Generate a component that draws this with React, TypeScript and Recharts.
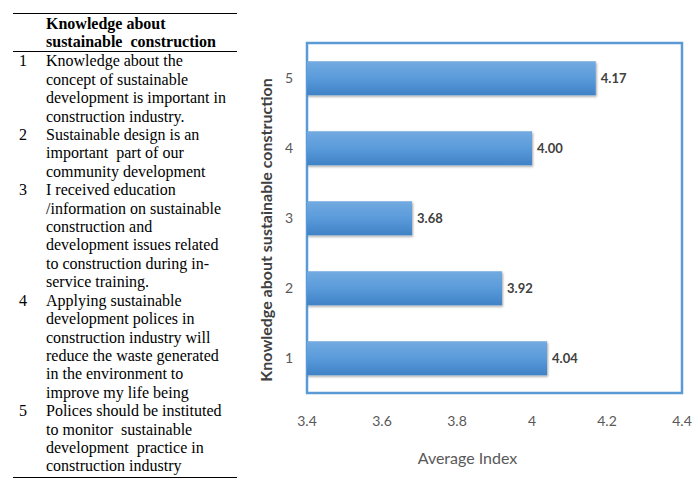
import React from "react";
import { BarChart, Bar, XAxis, YAxis, ReferenceArea, LabelList } from "recharts";

const categories = ["5", "4", "3", "2", "1"];
const averageIndex = [4.17, 4.0, 3.68, 3.92, 4.04];
const xTicks = [3.4, 3.6, 3.8, 4, 4.2, 4.4];
const headerLines = ["Knowledge about", "sustainable  construction"];
const rowNumbers = ["1", "2", "3", "4", "5"];
const rowLines = [
  ["Knowledge about the", "concept of sustainable", "development is important in", "construction industry."],
  ["Sustainable design is an", "important  part of our", "community development"],
  ["I received education", "/information on sustainable", "construction and", "development issues related", "to construction during in-", "service training."],
  ["Applying sustainable", "development polices in", "construction industry will", "reduce the waste generated", "in the environment to", "improve my life being"],
  ["Polices should be instituted", "to monitor  sustainable", "development  practice in", "construction industry"],
];

const data = categories.map((c, i) => ({ cat: c, value: averageIndex[i] }));

const serif = "'Liberation Serif', 'Times New Roman', serif";
const sans = "Lato, 'Open Sans', sans-serif";
const LH = 18.4;

function Table() {
  return (
    <div style={{ position: "absolute", left: 13, top: 13, width: 224, fontFamily: serif, fontSize: 16, color: "#000" }}>
      <div style={{ borderTop: "1.5px solid #000", paddingTop: 1, paddingLeft: 33, fontWeight: "bold", lineHeight: "18.2px", whiteSpace: "pre" }}>
        {headerLines.map((l, i) => (
          <div key={i}>{l}</div>
        ))}
      </div>
      <div style={{ borderTop: "1.5px solid #000", borderBottom: "1.5px solid #000", paddingTop: 0, paddingBottom: 1 }}>
        {rowLines.map((lines, r) => (
          <div key={r} style={{ display: "flex", lineHeight: `${LH}px`, whiteSpace: "pre" }}>
            <div style={{ width: 33, paddingLeft: 6, boxSizing: "border-box", flexShrink: 0 }}>{rowNumbers[r]}</div>
            <div>
              {lines.map((l, i) => (
                <div key={i}>{l}</div>
              ))}
            </div>
          </div>
        ))}
      </div>
    </div>
  );
}

const yTitle = (props: any) => {
  const vb = props.viewBox || {};
  const cx = vb.x + 15;
  const cy = vb.y + vb.height / 2 + 12;
  return (
    <text x={cx} y={cy} transform={`rotate(-90, ${cx}, ${cy})`} textAnchor="middle" dominantBaseline="central"
      fill="#404040" fontFamily={sans} fontWeight="bold" fontSize={16}>
      Knowledge about sustainable construction
    </text>
  );
};

const xTitle = (props: any) => {
  const vb = props.viewBox || {};
  const cx = vb.x + vb.width / 2 - 27;
  const cy = vb.y + 64;
  return (
    <text x={cx} y={cy} textAnchor="middle" dominantBaseline="central" fill="#595959" fontFamily={sans} fontSize={16}>
      Average Index
    </text>
  );
};

export default function App() {
  return (
    <div style={{ position: "absolute", left: 0, top: 0, width: 700, height: 491, background: "#fff" }}>
      <Table />
      <div style={{ position: "absolute", left: 250, top: 0 }}>
        <BarChart
          width={450}
          height={491}
          data={data}
          layout="vertical"
          margin={{ top: 43, right: 18, bottom: 0, left: 0 }}
          barCategoryGap="26%"
        >
          <defs>
            <linearGradient id="barGrad" x1="0" y1="0" x2="0" y2="1">
              <stop offset="0%" stopColor="#72aae0" />
              <stop offset="50%" stopColor="#5a9bdb" />
              <stop offset="100%" stopColor="#3f82c6" />
            </linearGradient>
            <filter id="shadow" x="-5%" y="-20%" width="110%" height="160%">
              <feDropShadow dx="1" dy="1.5" stdDeviation="1" floodColor="#000" floodOpacity="0.35" />
            </filter>
          </defs>
          <XAxis
            type="number"
            domain={[3.4, 4.4]}
            ticks={xTicks}
            allowDataOverflow
            height={98}
            axisLine={false}
            tickLine={false}
            tickMargin={17}
            tick={{ fill: "#595959", fontFamily: sans, fontSize: 14 }}
            tickFormatter={(v: number) => String(v)}
            label={{ content: xTitle }}
          />
          <YAxis
            type="category"
            dataKey="cat"
            width={57}
            axisLine={false}
            tickLine={false}
            tickMargin={8}
            tick={{ fill: "#595959", fontFamily: sans, fontSize: 14 }}
            label={{ content: yTitle }}
          />
          <ReferenceArea x1={3.4} x2={4.4} fill="none" stroke="#5b9bd5" strokeWidth={2.5} ifOverflow="visible" />
          <Bar dataKey="value" fill="url(#barGrad)" filter="url(#shadow)" isAnimationActive={false}>
            <LabelList
              dataKey="value"
              position="right"
              offset={5}
              formatter={(v: number) => v.toFixed(2)}
              style={{ fill: "#404040", fontFamily: sans, fontSize: 13, fontWeight: "bold" }}
            />
          </Bar>
        </BarChart>
      </div>
    </div>
  );
}
